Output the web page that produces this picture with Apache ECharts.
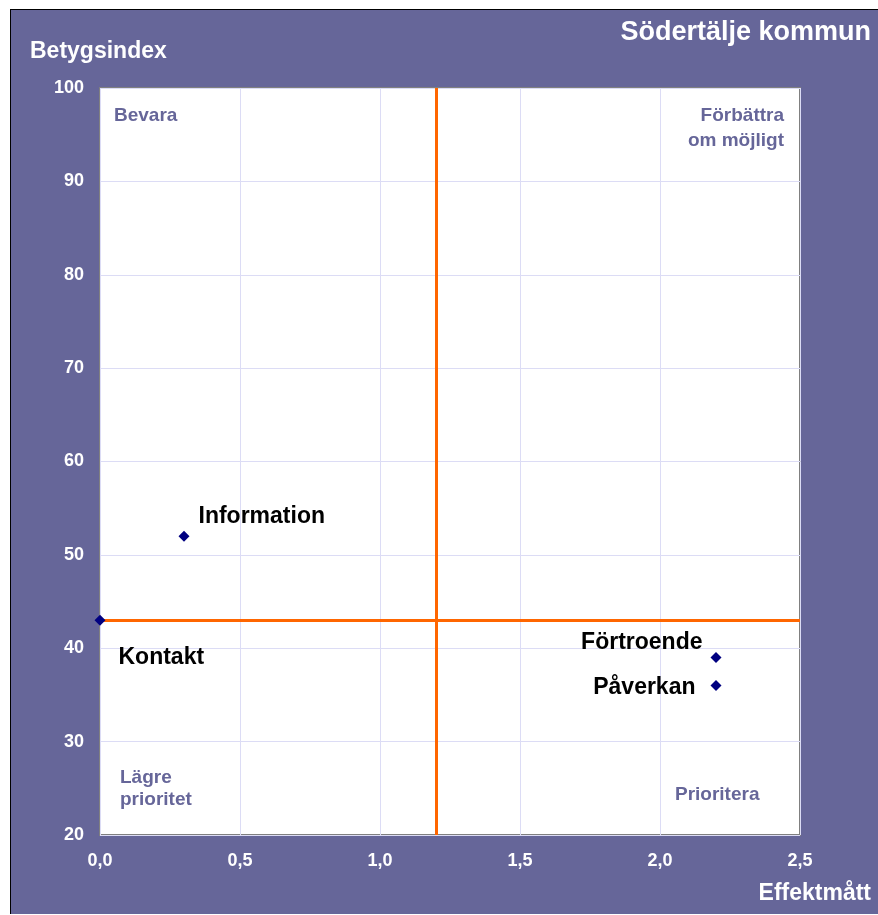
<!DOCTYPE html>
<html>
<head>
<meta charset="utf-8">
<script src="https://cdn.jsdelivr.net/npm/echarts@6/dist/echarts.min.js"></script>
<style>
  html, body { margin: 0; padding: 0; background: #fff; }
  #chart { position: absolute; left: 10px; top: 9px; width: 867px; height: 904px;
           border-left: 1px solid #000; border-top: 1px solid #000; background: #666699; }
</style>
</head>
<body>
<div id="chart"></div>
<script>
// punkter: effektmått (x) och betygsindex (y)
const names = ['Information', 'Kontakt', 'Förtroende', 'Påverkan'];
const effekt = [0.3, 0.0, 2.2, 2.2];
const betyg = [52, 43, 39, 36];
const xTicks = { min: 0, max: 2.5, interval: 0.5 };
const yTicks = { min: 20, max: 100, interval: 10 };
const medelX = 1.2;
const medelY = 43;

const labelPos = {
    'Information': { position: 'right', offset: [4, -20] },
    'Kontakt': { position: 'right', offset: [8, 37] },
    'Förtroende': { position: 'left', offset: [-3, -15] },
    'Påverkan': { position: 'left', offset: [-10, 2] }
};

let myChart = echarts.init(document.getElementById('chart'));
const font = 'Liberation Sans, Arial, sans-serif';
const quad = 'bold 19px ' + font;

myChart.setOption({
    animation: false,
    textStyle: { fontFamily: font },
    title: [
        { text: 'Södertälje kommun', right: 2, top: 4,
          textStyle: { color: '#fff', fontSize: 27, fontWeight: 'bold', fontFamily: font } },
        { text: 'Betygsindex', left: 14, top: 25,
          textStyle: { color: '#fff', fontSize: 23, fontWeight: 'bold', fontFamily: font } },
        { text: 'Effektmått', right: 2, top: 867,
          textStyle: { color: '#fff', fontSize: 23, fontWeight: 'bold', fontFamily: font } }
    ],
    grid: {
        left: 89, top: 78, width: 700, height: 747,
        show: true, backgroundColor: '#fff', borderColor: '#808080', borderWidth: 2
    },
    xAxis: {
        type: 'value', min: xTicks.min, max: xTicks.max, interval: xTicks.interval,
        axisLine: { show: false }, axisTick: { show: false },
        splitLine: { lineStyle: { color: '#dcdcf5', width: 1 } },
        axisLabel: { color: '#fff', fontSize: 18, fontWeight: 'bold', margin: 17,
                     formatter: v => v.toFixed(1).replace('.', ',') }
    },
    yAxis: {
        type: 'value', min: yTicks.min, max: yTicks.max, interval: yTicks.interval,
        axisLine: { show: false }, axisTick: { show: false },
        splitLine: { lineStyle: { color: '#dcdcf5', width: 1 } },
        axisLabel: { color: '#fff', fontSize: 18, fontWeight: 'bold', margin: 16 }
    },
    graphic: [
        { type: 'text', left: 103, top: 96, style: { text: 'Bevara', fill: '#666699', font: quad } },
        { type: 'text', right: 94, top: 96, style: { text: 'Förbättra', fill: '#666699', font: quad } },
        { type: 'text', right: 94, top: 121, style: { text: 'om möjligt', fill: '#666699', font: quad } },
        { type: 'text', left: 109, top: 757, style: { text: 'Lägre\nprioritet', fill: '#666699', lineHeight: 22, font: quad } },
        { type: 'text', left: 664, top: 775, style: { text: 'Prioritera', fill: '#666699', font: quad } }
    ],
    series: [{
        type: 'scatter',
        symbol: 'diamond',
        symbolSize: 11,
        itemStyle: { color: '#000080', opacity: 1 },
        data: names.map((n, i) => ({
            name: n,
            value: [effekt[i], betyg[i]],
            label: {
                show: true, formatter: n,
                position: labelPos[n].position, offset: labelPos[n].offset,
                color: '#000', fontSize: 23, fontWeight: 'bold', fontFamily: font
            }
        })),
        markLine: {
            silent: true, symbol: 'none', label: { show: false },
            lineStyle: { color: '#ff6600', width: 3, type: 'solid', opacity: 1 },
            data: [{ xAxis: medelX }, { yAxis: medelY }]
        },
        z: 5
    }]
});
</script>
</body>
</html>
